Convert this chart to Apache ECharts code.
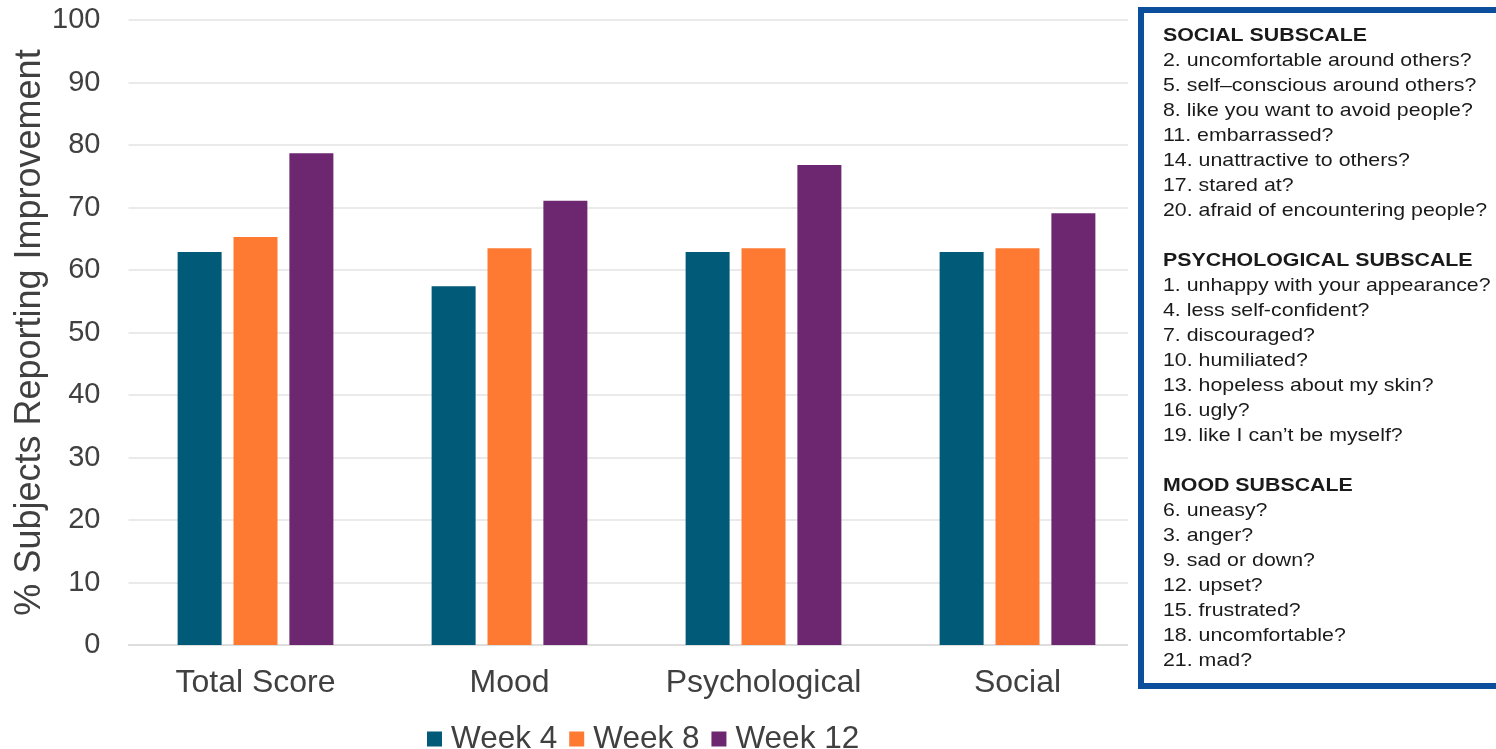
<!DOCTYPE html>
<html>
<head>
<meta charset="utf-8">
<script src="https://cdn.jsdelivr.net/npm/echarts@6/dist/echarts.min.js"></script>
<style>html,body{margin:0;padding:0;background:#fff;}#chart{width:1496px;height:749px;}</style>
</head>
<body>
<div id="chart"></div>
<script>
const categories = ['Total Score', 'Mood', 'Psychological', 'Social'];
const week4 = [62.9, 57.4, 62.9, 62.9];
const week8 = [65.3, 63.5, 63.5, 63.5];
const week12 = [78.7, 71.1, 76.8, 69.1];
const seriesNames = ['Week 4', 'Week 8', 'Week 12'];
const socialTitle = 'SOCIAL SUBSCALE';
const socialItems = ['2. uncomfortable around others?', '5. self\u2013conscious around others?', '8. like you want to avoid people?', '11. embarrassed?', '14. unattractive to others?', '17. stared at?', '20. afraid of encountering people?'];
const psychTitle = 'PSYCHOLOGICAL SUBSCALE';
const psychItems = ['1. unhappy with your appearance?', '4. less self-confident?', '7. discouraged?', '10. humiliated?', '13. hopeless about my skin?', '16. ugly?', '19. like I can\u2019t be myself?'];
const moodTitle = 'MOOD SUBSCALE';
const moodItems = ['6. uneasy?', '3. anger?', '9. sad or down?', '12. upset?', '15. frustrated?', '18. uncomfortable?', '21. mad?'];

const colors = ['#005A78', '#FE7A33', '#6D2770'];
const FONT = 'Liberation Sans, Arial, sans-serif';

const chart = echarts.init(document.getElementById('chart'));

const lines = [];
[[socialTitle, socialItems], [psychTitle, psychItems], [moodTitle, moodItems]].forEach((grp, gi) => {
  if (gi > 0) lines.push(null);
  lines.push({ t: grp[0], bold: true });
  grp[1].forEach(s => lines.push({ t: s, bold: false }));
});
const boxTextEls = [];
lines.forEach((ln, i) => {
  if (!ln) return;
  boxTextEls.push({
    type: 'text',
    x: 1163,
    y: 36 + i * 24.98,
    scaleX: 1.22,
    scaleY: 1.04,
    z: 110,
    style: {
      text: ln.t,
      fill: '#1a1a1a',
      font: (ln.bold ? 'bold ' : '') + '17.5px ' + FONT,
      verticalAlign: 'middle',
      align: 'left'
    }
  });
});

const option = {
  animation: false,
  backgroundColor: '#ffffff',
  color: colors,
  grid: { left: 128.5, right: 351.5, top: 20, bottom: 104, containLabel: false, outerBoundsMode: 'none' },
  legend: {
    data: seriesNames,
    left: 427,
    top: 723,
    padding: 0,
    itemWidth: 15,
    itemHeight: 15,
    itemGap: 12,
    icon: 'rect',
    textStyle: { fontFamily: FONT, fontSize: 31.5, lineHeight: 32, color: '#404040', padding: [0, 0, 0, 4] }
  },
  xAxis: {
    type: 'category',
    data: categories,
    axisLine: { show: true, lineStyle: { color: '#d9d9d9', width: 1.5 } },
    axisTick: { show: false },
    axisLabel: { interval: 0, fontFamily: FONT, fontSize: 32, color: '#404040', margin: 22, hideOverlap: false }
  },
  yAxis: {
    type: 'value',
    min: 0,
    max: 100,
    interval: 10,
    name: '% Subjects Reporting Improvement',
    nameLocation: 'middle',
    nameGap: 80,
    nameMoveOverlap: false,
    nameTextStyle: { fontFamily: FONT, fontSize: 36, color: '#404040' },
    axisLine: { show: false },
    axisTick: { show: false },
    axisLabel: { fontFamily: FONT, fontSize: 29, color: '#404040', margin: 28 },
    splitLine: { lineStyle: { color: '#e3e3e3', width: 1.5 } }
  },
  series: [
    { name: seriesNames[0], type: 'bar', data: week4, barWidth: 44, barGap: '27%' },
    { name: seriesNames[1], type: 'bar', data: week8, barWidth: 44, barGap: '27%' },
    { name: seriesNames[2], type: 'bar', data: week12, barWidth: 44, barGap: '27%' }
  ],
  graphic: [
    { type: 'rect', z: 100, shape: { x: 1128, y: 0, width: 14, height: 700 }, style: { fill: '#ffffff' } },
    { type: 'rect', z: 105, shape: { x: 1141, y: 10, width: 420, height: 676 }, style: { fill: '#ffffff', stroke: '#0B4F9C', lineWidth: 6 } }
  ].concat(boxTextEls)
};
chart.setOption(option);
</script>
</body>
</html>
